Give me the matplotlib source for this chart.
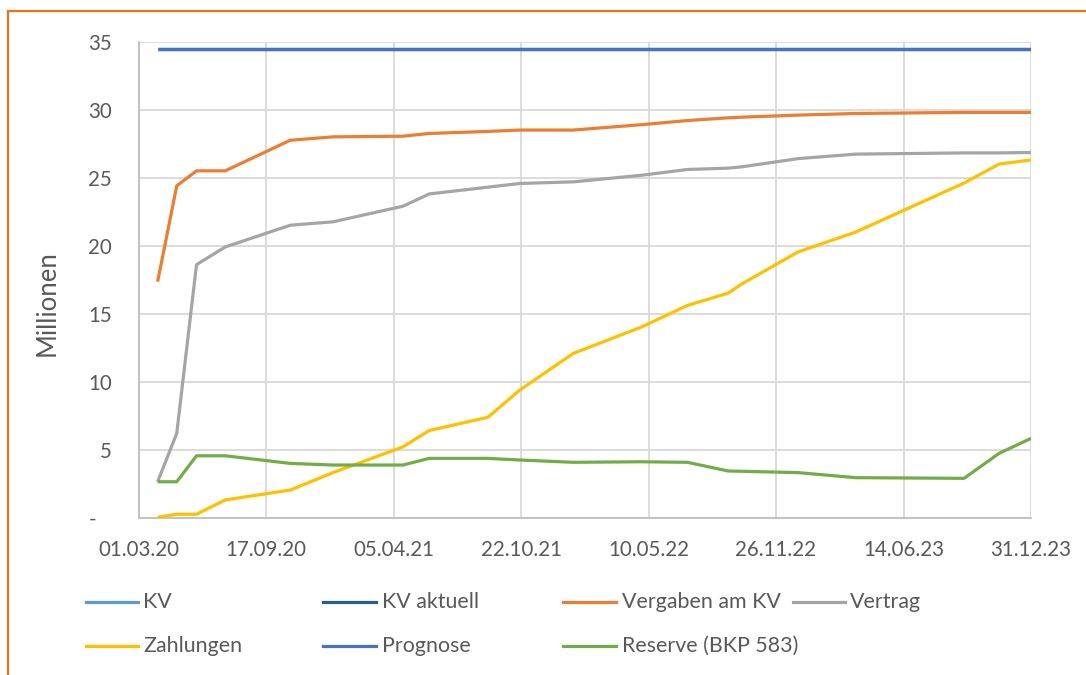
import matplotlib
matplotlib.use("Agg")
import matplotlib.pyplot as plt
from matplotlib.lines import Line2D
from matplotlib.patches import Rectangle
import pandas as pd

# ---------------- data ----------------
dates = ["2020-03-31", "2020-04-30", "2020-05-31", "2020-07-15", "2020-10-25",
         "2020-12-31", "2021-04-20", "2021-05-31", "2021-08-31", "2021-10-20",
         "2022-01-12", "2022-04-30", "2022-07-10", "2022-09-12", "2022-10-04",
         "2022-12-31", "2023-03-31", "2023-09-17", "2023-11-11", "2023-12-31"]
kv = [34.45] * 20
kv_aktuell = [34.45] * 20
prognose = [34.45] * 20
vergaben = [17.35, 24.4, 25.5, 25.5, 27.75, 28.0, 28.05, 28.25, 28.4, 28.5,
            28.5, 28.9, 29.2, 29.4, 29.45, 29.6, 29.72, 29.8, 29.8, 29.8]
vertrag = [2.63, 6.19, 18.6, 19.9, 21.5, 21.75, 22.9, 23.8, 24.3, 24.57,
           24.69, 25.18, 25.6, 25.7, 25.8, 26.4, 26.73, 26.82, 26.82, 26.85]
zahlungen = [0.01, 0.24, 0.24, 1.29, 2.02, 3.3, 5.2, 6.4, 7.37, 9.37,
             12.07, 14.03, 15.6, 16.5, 17.2, 19.54, 21.0, 24.6, 26.0, 26.3]
reserve = [2.63, 2.63, 4.54, 4.54, 3.98, 3.86, 3.86, 4.35, 4.35, 4.23,
           4.06, 4.1, 4.06, 3.42, 3.4, 3.3, 2.93, 2.88, 4.72, 5.82]

xtick_labels = ["01.03.20", "17.09.20", "05.04.21", "22.10.21",
                "10.05.22", "26.11.22", "14.06.23", "31.12.23"]
ytick_values = [0, 5, 10, 15, 20, 25, 30, 35]
ytick_labels = ["-   ", "5", "10", "15", "20", "25", "30", "35"]

series_names = ["KV", "KV aktuell", "Vergaben am KV", "Vertrag",
                "Zahlungen", "Prognose", "Reserve (BKP 583)"]
series_colors = ["#5B9BD5", "#255E91", "#ED7D31", "#A5A5A5",
                 "#FFC000", "#4472C4", "#70AD47"]

# ---------------- plot ----------------
FONT = "Lato"
TXT = "#595959"
plt.rcParams["font.family"] = [FONT, "DejaVu Sans"]

W, H = 1086, 675
fig = plt.figure(figsize=(W / 100, H / 100), dpi=100)
fig.patch.set_facecolor("white")

L, R, T, B = 138.5, 1031, 41.7, 517.5
ax = fig.add_axes([L / W, 1 - B / H, (R - L) / W, (B - T) / H])

x = pd.to_datetime(dates)
data = [kv, kv_aktuell, vergaben, vertrag, zahlungen, prognose, reserve]
draw_order = [0, 1, 5, 2, 3, 4, 6]
for i in draw_order:
    ax.plot(x, data[i], color=series_colors[i], lw=2.3,
            solid_joinstyle="round", solid_capstyle="butt", zorder=3 + i * 0.1)

xt = pd.to_datetime(xtick_labels, format="%d.%m.%y")
ax.set_xlim(xt[0], xt[-1])
ax.set_ylim(0, 35)
ax.set_xticks(xt)
ax.set_xticklabels(xtick_labels)
ax.set_yticks(ytick_values)
ax.set_yticklabels(ytick_labels)

ax.grid(True, color="#D9D9D9", lw=1.3, zorder=0)
ax.set_axisbelow(True)
for s in ["top", "right"]:
    ax.spines[s].set_visible(False)
for s in ["left", "bottom"]:
    ax.spines[s].set_color("#BFBFBF")
    ax.spines[s].set_linewidth(1.3)
ax.tick_params(axis="both", length=0, labelsize=14.8, labelcolor=TXT)
ax.tick_params(axis="x", pad=16)
ax.tick_params(axis="y", pad=19)

fig.text(47 / W, 1 - 303 / H, "Millionen", rotation=90, ha="center",
         va="center", fontsize=18.5, color=TXT)

# legend (manual, Excel-like layout)
cols = [(86, 138, 143), (323, 376, 382), (563, 616, 622), (793, 845, 850)]
rows = [601.7, 645.7]
slots = [(0, 0), (0, 1), (0, 2), (0, 3), (1, 0), (1, 1), (1, 2)]
for (r, c), name, col in zip(slots, series_names, series_colors):
    x0, x1, xt0 = cols[c]
    yy = 1 - rows[r] / H
    fig.add_artist(Line2D([x0 / W, x1 / W], [yy, yy], color=col, lw=2.3,
                          transform=fig.transFigure))
    fig.text(xt0 / W, yy, name, ha="left", va="center", fontsize=15.4, color=TXT)

# orange outer frame (cut at right and bottom)
fig.add_artist(Rectangle((8 / W, -0.2), 1.5, (1 - 11 / H) + 0.2,
                         transform=fig.transFigure, fill=False,
                         ec="#E8731F", lw=1.6))

fig.savefig("out.png", dpi=100, facecolor="white")
